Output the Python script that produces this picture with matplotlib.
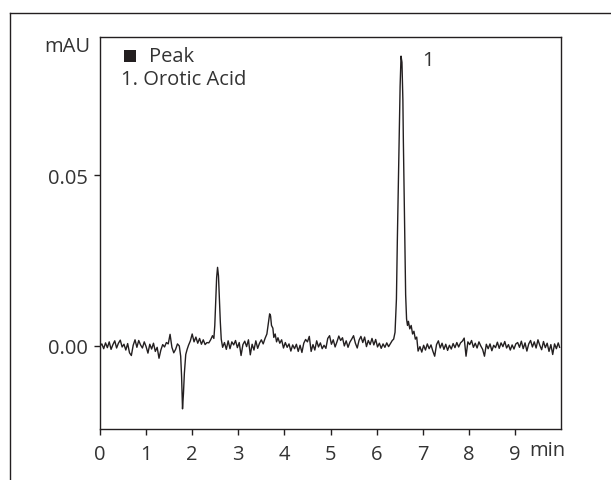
import matplotlib
matplotlib.use("Agg")
import matplotlib.pyplot as plt
from matplotlib.lines import Line2D
from matplotlib.patches import Rectangle

plt.rcParams['font.family'] = ['Open Sans', 'DejaVu Sans']

# Retention time (min)
time = [
    0.00, 0.04, 0.08, 0.12, 0.16, 0.20, 0.24, 0.28, 0.32, 0.36, 0.40, 0.44, 0.48, 0.52, 0.56,
    0.60, 0.64, 0.68, 0.72, 0.76, 0.80, 0.84, 0.88, 0.92, 0.96, 1.00, 1.04, 1.08, 1.12, 1.16,
    1.20, 1.24, 1.28, 1.32, 1.36, 1.40, 1.44, 1.48, 1.52, 1.56, 1.60, 1.64, 1.68,
    1.72, 1.75, 1.77, 1.79, 1.81, 1.83, 1.86, 1.89, 1.92, 1.96, 2.00, 2.04, 2.08, 2.12, 2.16,
    2.20, 2.24, 2.28, 2.32, 2.36, 2.40, 2.44, 2.47,
    2.49, 2.51, 2.53, 2.55, 2.57, 2.59, 2.61, 2.63, 2.66, 2.70,
    2.74, 2.78, 2.82, 2.86, 2.90, 2.94, 2.98, 3.02, 3.06, 3.10, 3.14, 3.18, 3.22, 3.26, 3.30,
    3.34, 3.38, 3.42, 3.46, 3.50, 3.54, 3.58, 3.62,
    3.65, 3.68, 3.70, 3.72, 3.75, 3.77, 3.80, 3.83, 3.86, 3.90, 3.94, 3.98,
    4.02, 4.06, 4.10, 4.14, 4.18, 4.22, 4.26, 4.30, 4.34, 4.38, 4.42, 4.46, 4.50, 4.54, 4.58,
    4.62, 4.66, 4.70, 4.74, 4.78, 4.82, 4.86, 4.90, 4.94, 4.98, 5.02, 5.06, 5.10, 5.14, 5.18,
    5.22, 5.26, 5.30, 5.34, 5.38, 5.42, 5.46, 5.50, 5.54, 5.58, 5.62, 5.66, 5.70, 5.74, 5.78,
    5.82, 5.86, 5.90, 5.94, 5.98, 6.02, 6.06, 6.10, 6.14, 6.18, 6.22, 6.26, 6.30, 6.34,
    6.37, 6.40, 6.43, 6.45, 6.47, 6.49, 6.51, 6.53, 6.55, 6.57, 6.58, 6.60, 6.61, 6.63, 6.65,
    6.67, 6.69, 6.72, 6.75, 6.78, 6.81, 6.84, 6.87, 6.90, 6.94, 6.98,
    7.02, 7.06, 7.10, 7.14, 7.18, 7.22, 7.26, 7.30, 7.34, 7.38, 7.42, 7.46, 7.50, 7.54, 7.58,
    7.62, 7.66, 7.70, 7.74, 7.78, 7.82, 7.86, 7.90, 7.94, 7.98, 8.02, 8.06, 8.10, 8.14, 8.18,
    8.22, 8.26, 8.30, 8.34, 8.38, 8.42, 8.46, 8.50, 8.54, 8.58, 8.62, 8.66, 8.70, 8.74, 8.78,
    8.82, 8.86, 8.90, 8.94, 8.98, 9.02, 9.06, 9.10, 9.14, 9.18, 9.22, 9.26, 9.30, 9.34, 9.38,
    9.42, 9.46, 9.50, 9.54, 9.58, 9.62, 9.66, 9.70, 9.74, 9.78, 9.82, 9.86, 9.90, 9.94, 9.97,
]

# Detector signal (mAU)
signal = [
    0.0000, 0.0006, -0.0008, 0.0009, -0.0005, 0.0012, -0.0010, 0.0004, 0.0015, -0.0006, 0.0008, 0.0017, -0.0003, 0.0005, -0.0012,
    0.0007, -0.0020, -0.0028, 0.0002, 0.0018, -0.0004, 0.0016, 0.0003, -0.0006, 0.0012, -0.0002, -0.0021, 0.0005, -0.0009, 0.0008,
    -0.0016, -0.0004, -0.0036, -0.0012, 0.0004, -0.0003, 0.0010, 0.0006, 0.0034, -0.0004, -0.0020, -0.0010, 0.0006,
    0.0000, -0.0030, -0.0090, -0.0184, -0.0140, -0.0080, -0.0025, -0.0010, 0.0002, 0.0015, 0.0035, 0.0012, 0.0026, 0.0008, 0.0022,
    0.0005, 0.0018, 0.0004, 0.0010, 0.0009, 0.0018, 0.0030, 0.0022,
    0.0060, 0.0130, 0.0200, 0.0230, 0.0205, 0.0140, 0.0070, 0.0020, -0.0004, 0.0010,
    -0.0010, 0.0015, -0.0008, 0.0012, 0.0003, 0.0016, -0.0005, 0.0010, -0.0028, 0.0004, 0.0014, -0.0002, 0.0018, -0.0026, 0.0005,
    -0.0012, 0.0015, -0.0007, 0.0008, 0.0018, 0.0006, 0.0022, 0.0035,
    0.0065, 0.0094, 0.0088, 0.0060, 0.0052, 0.0025, 0.0035, 0.0012, 0.0024, 0.0008, 0.0018, -0.0006,
    0.0010, -0.0004, 0.0006, -0.0015, 0.0003, -0.0008, 0.0005, -0.0016, 0.0002, -0.0019, 0.0008, 0.0019, 0.0012, 0.0028, -0.0016,
    0.0004, -0.0012, 0.0015, -0.0003, 0.0009, -0.0008, 0.0002, -0.0007, 0.0022, 0.0030, 0.0005, 0.0018, -0.0003, 0.0012, 0.0029,
    0.0016, 0.0024, 0.0000, 0.0015, -0.0004, 0.0011, 0.0020, 0.0030, 0.0008, -0.0006, 0.0017, 0.0028, 0.0010, 0.0026, -0.0002,
    0.0016, 0.0004, 0.0022, 0.0003, 0.0019, -0.0003, 0.0008, -0.0007, 0.0006, -0.0004, 0.0009, -0.0002, 0.0007, 0.0016,
    0.0020, 0.0040, 0.0137, 0.0310, 0.0460, 0.0605, 0.0760, 0.0848, 0.0830, 0.0720, 0.0605, 0.0420, 0.0310, 0.0150, 0.0079,
    0.0060, 0.0072, 0.0050, 0.0060, 0.0035, 0.0043, 0.0020, 0.0026, -0.0015, -0.0002, -0.0018,
    0.0002, -0.0012, 0.0006, -0.0008, 0.0003, -0.0015, -0.0030, 0.0004, 0.0015, -0.0006, 0.0008, -0.0010, 0.0005, -0.0013, 0.0002,
    -0.0009, 0.0007, -0.0005, 0.0010, -0.0003, 0.0009, 0.0014, 0.0023, -0.0030, 0.0012, 0.0004, 0.0016, -0.0004, 0.0008, -0.0006,
    0.0012, 0.0000, -0.0010, -0.0030, 0.0005, -0.0008, 0.0006, -0.0014, 0.0002, -0.0005, 0.0011, -0.0007, 0.0009, -0.0002, 0.0013,
    -0.0006, 0.0004, -0.0012, 0.0003, -0.0009, 0.0006, 0.0010, -0.0004, 0.0014, -0.0008, 0.0009, -0.0015, 0.0006, 0.0016, -0.0003,
    0.0012, -0.0006, 0.0018, 0.0002, -0.0011, 0.0013, -0.0005, 0.0008, -0.0016, 0.0004, -0.0025, 0.0006, -0.0008, 0.0009, -0.0004,
]

x_ticks = [0, 1, 2, 3, 4, 5, 6, 7, 8, 9]
y_ticks = [0.00, 0.05]
y_tick_labels = ["0.00", "0.05"]
peak_label = "1"
peak_time = 6.53
peak_height = 0.0848

INK = "#231f20"
TXT = "#333333"
FS = 14.5
W, H = 611, 481

fig = plt.figure(figsize=(W / 100, H / 100), dpi=100)
ax = fig.add_axes([100 / W, 1 - 430 / H, 461 / W, 392 / H])

ax.plot(time, signal, color=INK, lw=1.0)
ax.set_xlim(0, 10)
ax.set_ylim(-0.0243, 0.0904)
ax.set_xticks(x_ticks)
ax.set_yticks(y_ticks)
ax.set_yticklabels(y_tick_labels)
for s in ax.spines.values():
    s.set_color(INK)
    s.set_linewidth(1.0)
ax.tick_params(direction='out', length=4, width=1.0, color=INK,
               labelcolor=TXT, labelsize=FS)
ax.tick_params(axis='x', pad=7)
ax.tick_params(axis='y', pad=5)

ax.annotate(peak_label, xy=(peak_time, peak_height), xytext=(15, -3),
            textcoords='offset points', fontsize=FS, color=TXT,
            ha='left', va='center')

def fx(px):
    return px / W

def fy(py):
    return 1 - py / H

fig.text(fx(67), fy(47), "mAU", fontsize=FS, color=TXT, ha='center', va='center')
fig.text(fx(547), fy(451), "min", fontsize=FS, color=TXT, ha='center', va='center')
fig.patches.append(Rectangle((fx(124), fy(63)), 12 / W, 12 / H, transform=fig.transFigure,
                             facecolor=INK, edgecolor='none'))
fig.text(fx(149), fy(57), "Peak", fontsize=FS, color=TXT, ha='left', va='center')
fig.text(fx(121), fy(80), "1. Orotic Acid", fontsize=FS, color=TXT, ha='left', va='center')

# outer frame
fig.add_artist(Line2D([fx(10), fx(10)], [fy(14), 0], transform=fig.transFigure, color=INK, lw=1.0))
fig.add_artist(Line2D([fx(10), 1], [fy(14), fy(14)], transform=fig.transFigure, color=INK, lw=1.0))

fig.savefig("out.png", dpi=100)
